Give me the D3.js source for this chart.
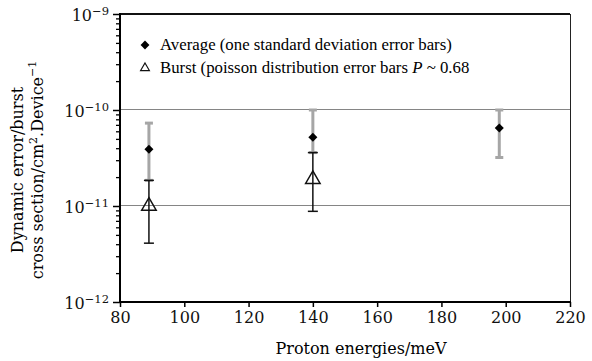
<!DOCTYPE html>
<html>
<head>
<meta charset="utf-8">
<script src="https://cdn.jsdelivr.net/npm/d3@7"></script>
<style>
  body { margin: 0; background: #fff; }
</style>
</head>
<body>
<svg id="chart" width="592" height="361"></svg>
<script>
// Data
var energies = [89, 140, 198];
var avgValues = [3.9e-11, 5.2e-11, 6.5e-11];
var avgUpper = [7.3e-11, 1.0e-10, 1.0e-10];
var avgLower = [1.85e-11, 3.6e-11, 3.2e-11];

var burstEnergies = [89, 140];
var burstValues = [1.0e-11, 1.9e-11];
var burstUpper = [1.85e-11, 3.6e-11];
var burstLower = [4.1e-12, 8.8e-12];

var xTicks = [80, 100, 120, 140, 160, 180, 200, 220];
var yDecades = [1e-12, 1e-11, 1e-10, 1e-9];
var yExponents = ["−12", "−11", "−10", "−9"];
var gridValues = [1e-11, 1e-10];

var legendLabels = [
  "Average (one standard deviation error bars)",
  "Burst (poisson distribution error bars "
];

var serif = "'Liberation Serif', 'Times New Roman', serif";
var cm = "'DejaVu Serif', serif";   // closest to the TeX look of the axes

var svg = d3.select("#chart")
  , margin = { left: 120, right: 22, top: 14, bottom: 59 }
  , width = 592 - margin.left - margin.right
  , height = 361 - margin.top - margin.bottom
;

var x = d3.scaleLinear().domain([80, 220]).range([0, width]);
var y = d3.scaleLog().domain([1e-12, 1e-9]).range([height, 0]);

var g = svg.append("g")
    .attr("transform", "translate(" + margin.left + "," + margin.top + ")");

// grid lines (half pixel offset keeps them crisp)
g.selectAll(".grid")
    .data(gridValues)
  .enter().append("line")
    .attr("x1", 0).attr("x2", width)
    .attr("y1", function(d) { return y(d) - 0.5; })
    .attr("y2", function(d) { return y(d) - 0.5; })
    .attr("stroke", "#858585")
    .attr("stroke-width", 1);

// frame: right and top
g.append("line")
    .attr("x1", width + 0.5).attr("x2", width + 0.5)
    .attr("y1", 0).attr("y2", height)
    .attr("stroke", "#222").attr("stroke-width", 1);
g.append("line")
    .attr("x1", 0).attr("x2", width)
    .attr("y1", 0).attr("y2", 0)
    .attr("stroke", "#111").attr("stroke-width", 2);

// minor y ticks
var minors = [];
yDecades.slice(0, -1).forEach(function(d) {
  for (var k = 2; k <= 9; k++) minors.push(d * k);
});
g.append("g")
    .call(d3.axisLeft(y).tickValues(minors).tickSize(4).tickFormat(""))
    .call(function(s) { s.select(".domain").remove(); })
    .selectAll("line").attr("stroke-width", 1.3);

// major y axis
var yAxis = g.append("g")
    .call(d3.axisLeft(y).tickValues(yDecades).tickSize(7).tickFormat(""));
yAxis.select(".domain").attr("stroke-width", 2).attr("d", "M0," + (height + 1) + "V-1");
yAxis.selectAll(".tick line").attr("stroke-width", 1.5);
yAxis.selectAll(".tick").append("text")
    .attr("x", -11)
    .attr("dy", "0.38em")
    .attr("text-anchor", "end")
    .attr("fill", "#111")
    .style("font-family", cm)
    .style("font-size", "16px")
    .each(function(d, i) {
      var t = d3.select(this);
      t.append("tspan").text("10");
      t.append("tspan")
          .attr("dy", "-0.5em")
          .style("font-size", "11.5px")
          .text(yExponents[i]);
    });

// x axis
var xAxis = g.append("g")
    .attr("transform", "translate(0," + height + ")")
    .call(d3.axisBottom(x).tickValues(xTicks).tickSize(5).tickPadding(5));
xAxis.select(".domain").attr("stroke-width", 2).attr("d", "M-1,0H" + (width + 1));
xAxis.selectAll(".tick line").attr("stroke-width", 1.5);
xAxis.selectAll(".tick text")
    .attr("fill", "#111")
    .style("font-size", "16px")
    .style("font-family", cm);

// axis titles
svg.append("text")
    .attr("x", 361).attr("y", 354)
    .attr("text-anchor", "middle")
    .style("font-family", cm)
    .style("font-size", "16px")
    .text("Proton energies/meV");

var yTitle = svg.append("text")
    .attr("transform", "translate(23,170) rotate(-90)")
    .attr("text-anchor", "middle")
    .style("font-family", cm)
    .style("font-size", "16px");
yTitle.append("tspan").attr("x", 0).attr("dy", 0).text("Dynamic error/burst");
var line2 = yTitle.append("tspan").attr("x", 0).attr("dy", 20);
line2.append("tspan").text("cross section/cm");
line2.append("tspan").attr("dy", -6).style("font-size", "11px").text("2");
line2.append("tspan").attr("dy", 6).text(".Device");
line2.append("tspan").attr("dy", -7).style("font-size", "11px").text("−1");

// average error bars (grey)
var avg = energies.map(function(e, i) {
  return { x: e, v: avgValues[i], hi: avgUpper[i], lo: avgLower[i] };
});
var avgG = g.append("g").attr("stroke", "#a6a6a6").attr("stroke-width", 3);
avgG.selectAll(".bar").data(avg).enter().append("line")
    .attr("x1", function(d) { return x(d.x); }).attr("x2", function(d) { return x(d.x); })
    .attr("y1", function(d) { return y(d.hi); }).attr("y2", function(d) { return y(d.lo); });
["hi", "lo"].forEach(function(k) {
  avgG.selectAll(".cap-" + k).data(avg).enter().append("line")
      .attr("x1", function(d) { return x(d.x) - 4; }).attr("x2", function(d) { return x(d.x) + 4; })
      .attr("y1", function(d) { return y(d[k]); }).attr("y2", function(d) { return y(d[k]); });
});

// burst error bars (black)
var burst = burstEnergies.map(function(e, i) {
  return { x: e, v: burstValues[i], hi: burstUpper[i], lo: burstLower[i] };
});
var bG = g.append("g").attr("stroke", "#111").attr("stroke-width", 1.5);
bG.selectAll(".bar").data(burst).enter().append("line")
    .attr("x1", function(d) { return x(d.x); }).attr("x2", function(d) { return x(d.x); })
    .attr("y1", function(d) { return y(d.hi); }).attr("y2", function(d) { return y(d.lo); });
["hi", "lo"].forEach(function(k) {
  bG.selectAll(".cap-" + k).data(burst).enter().append("line")
      .attr("x1", function(d) { return x(d.x) - 5; }).attr("x2", function(d) { return x(d.x) + 5; })
      .attr("y1", function(d) { return y(d[k]); }).attr("y2", function(d) { return y(d[k]); });
});

// markers
var diamond = d3.symbol().type(d3.symbolDiamond2).size(52);
var triangle = d3.symbol().type(d3.symbolTriangle2).size(150);

g.selectAll(".avg").data(avg).enter().append("path")
    .attr("d", diamond)
    .attr("transform", function(d) { return "translate(" + x(d.x) + "," + y(d.v) + ")"; })
    .attr("fill", "#000");

g.selectAll(".burst").data(burst).enter().append("path")
    .attr("d", triangle)
    .attr("transform", function(d) { return "translate(" + x(d.x) + "," + y(d.v) + ")"; })
    .attr("fill", "none")
    .attr("stroke", "#111")
    .attr("stroke-width", 1.5);

// legend
var legend = svg.append("g");
legend.append("path")
    .attr("d", d3.symbol().type(d3.symbolDiamond2).size(50))
    .attr("transform", "translate(145,45)")
    .attr("fill", "#000");
legend.append("path")
    .attr("d", d3.symbol().type(d3.symbolTriangle2).size(55))
    .attr("transform", "translate(145,68)")
    .attr("fill", "none").attr("stroke", "#111").attr("stroke-width", 1.2);
legend.append("text")
    .attr("x", 160).attr("y", 50)
    .style("font-family", serif)
    .style("font-size", "16.8px")
    .text(legendLabels[0]);
var l2 = legend.append("text")
    .attr("x", 160).attr("y", 73)
    .style("font-family", serif)
    .style("font-size", "16.8px");
l2.append("tspan").text(legendLabels[1]);
l2.append("tspan").style("font-style", "italic").text("P");
l2.append("tspan").text(" ~ 0.68");
</script>
</body>
</html>
